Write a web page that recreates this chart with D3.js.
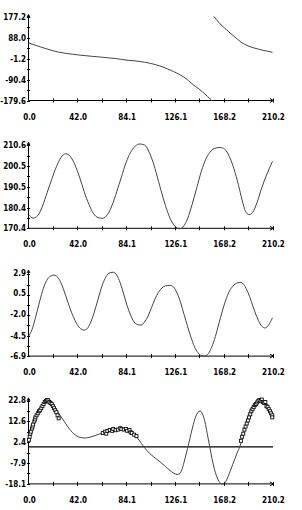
<!DOCTYPE html>
<html><head><meta charset="utf-8">
<script src="https://cdn.jsdelivr.net/npm/d3@7"></script>
<style>body{margin:0;background:#fff}svg{display:block}text{font-family:"DejaVu Sans Condensed","DejaVu Sans",sans-serif;font-size:8px;font-weight:bold;fill:#000}</style>
</head><body>
<script>
const xDomain = [0, 210.2];
const xTickLabels = ["0.0","42.0","84.1","126.1","168.2","210.2"];

const yLabels1 = ["-179.6","-90.4","-1.2","88.0","177.2"];
const yLabels2 = ["170.4","180.4","190.5","200.5","210.6"];
const yLabels3 = ["-6.9","-4.5","-2.0","0.5","2.9"];
const yLabels4 = ["-18.1","-7.9","2.4","12.6","22.8"];

const phaseSeg1 = [[0,67],[5,58],[10,50],[15,42],[21,33],[26,27],[32,22],[38,18],[43,15],[49,12],[55,9],[60,7],[64,5],[70,2],[75,0],[80,-4],[86,-8],[91,-10],[96,-13],[100,-16],[105,-21],[110,-27],[115,-35],[120,-45],[125,-56],[130,-68],[134,-80],[138,-95],[142,-113],[146,-127],[150,-143],[154,-161],[158,-180]];
const phaseSeg2 = [[159.7,180],[162,165],[165,148],[168,134],[171,121],[174,107],[177,95],[180,82],[183,70],[186,61],[189,54],[192,48],[195,44],[198,40],[202,35],[206,31],[210.2,26]];

const series2 = [[0,177.0],[4,175.3],[8,176.5],[12,181],[16,187.5],[20,194],[24,200],[28,204.5],[32,206.3],[36,205],[40,201],[44,195],[48,188],[52,182],[56,177.5],[60,175.5],[64,175.2],[68,177],[72,181.5],[76,188],[80,195],[84,202],[88,207],[92,210],[96,211],[100,210.5],[104,207],[108,201],[112,193],[116,185],[120,178],[124,173],[128,170.5],[130,170.2],[133,171],[137,175],[141,182],[145,190],[149,198],[153,204],[157,207.5],[161,209],[165,209.3],[169,208.5],[173,205],[177,199],[181,191],[184,184],[187,178.5],[190,177],[193,178],[197,183],[201,190],[205,196],[210.2,202.6]];

const series3 = [[0,-4.6],[3,-3.8],[6,-2.4],[9,-0.8],[12,0.7],[15,1.8],[18,2.4],[22,2.6],[26,2.2],[30,1.0],[34,-0.6],[38,-2.1],[42,-3.2],[45,-3.7],[48,-3.85],[51,-3.6],[54,-2.8],[57,-1.6],[60,-0.2],[63,1.2],[66,2.2],[69,2.8],[73,2.95],[76,2.6],[79,1.7],[82,0.4],[85,-1.0],[88,-2.1],[91,-2.9],[94,-3.2],[97,-3.25],[100,-2.9],[103,-2.2],[106,-1.2],[109,-0.2],[112,0.6],[115,1.1],[118,1.35],[122,1.4],[125,1.2],[128,0.5],[131,-0.6],[134,-2.0],[137,-3.4],[140,-4.7],[143,-5.8],[146,-6.5],[149,-6.85],[152,-6.9],[155,-6.6],[158,-5.8],[161,-4.6],[164,-3.1],[167,-1.6],[170,-0.3],[173,0.7],[176,1.3],[180,1.7],[183,1.75],[186,1.4],[189,0.6],[192,-0.5],[195,-1.7],[198,-2.7],[201,-3.4],[204,-3.6],[207,-3.2],[210.2,-2.4]];

const series4 = [[0,3.3],[2,7],[4,10.5],[6,13.5],[8,16],[10,18.2],[12,20],[14,21.5],[17,22.6],[20,22],[23,19.5],[26,16.5],[29,14],[32,11.5],[35,9],[38,7],[41,5.6],[45,4.6],[49,4.4],[53,4.8],[57,5.5],[61,6.3],[65,7.1],[69,7.8],[73,8.3],[77,8.8],[81,9.0],[85,8.6],[89,7.5],[93,5.0],[96,2.8],[99,0.3],[102,-1.8],[106,-4],[110,-5.8],[114,-7.6],[118,-9.6],[122,-11.6],[125,-12.8],[128,-13.5],[130,-13.2],[132,-11.3],[134,-7.5],[136,-3],[138,1.5],[140,6.5],[142,11],[144,14.8],[146,17],[148,17.6],[150,16],[152,12.3],[154,6.5],[156,0.5],[158,-5.5],[160,-10.5],[162,-14.3],[164,-16.8],[166,-18],[168,-18.1],[170,-16.8],[172,-14.5],[174,-11.5],[176,-8.5],[178,-5.5],[180,-2.5],[182,0],[184,4],[186,8.5],[188,12.5],[190,16.5],[192,19],[194,20.8],[196,22],[198,22.6],[200,23],[202,22.6],[204,21.5],[206,19.8],[208,17.8],[210.2,15.6]];

const markers4 = [[0.5,3.5],[1,5],[1.5,6.5],[2,7.5],[3,9],[3.5,10],[4,11],[5,12.5],[5.5,13.5],[6,14.5],[7,15.5],[8,16.5],[9,17.5],[10,18],[11,19],[12,20],[13,21],[14,22],[15,22.5],[16,23],[17,22.8],[18,22],[19,21.5],[20,21],[21,20],[22,19],[23,18],[24,17],[25,15.5],[26,14],
[64,6.8],[66,7.5],[67,6.5],[68,7.8],[70,8.3],[72,7.9],[73,8.8],[75,8.2],[77,8.5],[79,9.2],[80,8.8],[82,8.5],[84,8.8],[85,7.9],[87,8.3],[88,7.2],[89,6.8],[91,6.0],[93,5.3],
[183,3],[184,5],[185,6.5],[186,8.5],[187,10],[188,11.5],[189,13],[190,14.5],[191,16],[192,17.5],[193,18.5],[194,19.5],[195,20.5],[196,21],[197,21.8],[198,22.5],[199,23],[200,22.5],[201,23.2],[202,22],[203,21.5],[204,22],[205,20],[206,19.5],[207,18.5],[208,17.5],[209,16.5],[210,15.5],[210,14.5]];
const refLine4 = [0];

const svg = d3.select("body").append("svg").attr("width",302).attr("height",510);
const x = d3.scaleLinear().domain(xDomain).range([28.5,272.5]);
const line = d3.line().x(d=>x(d[0])).curve(d3.curveMonotoneX);

const panels = [
  {labels:yLabels1, lines:[phaseSeg1,phaseSeg2]},
  {labels:yLabels2, lines:[series2]},
  {labels:yLabels3, lines:[series3]},
  {labels:yLabels4, lines:[series4], markers:markers4, hline:refLine4}
];

panels.forEach((p,i)=>{
  const off = 127.8*i;
  const top = 17+off, bottom = 100.5+off;
  const vals = p.labels.map(Number);
  const y = d3.scaleLinear().domain([vals[0], vals[vals.length-1]]).range([bottom, top]);
  const g = svg.append("g");
  const step = (vals[1]-vals[0])/2;
  g.append("line").attr("x1",28.5).attr("x2",28.5).attr("y1",bottom).attr("y2",top-2).attr("stroke","#000");
  g.append("path").attr("d",`M27,${top+0.5}L28.5,${top-2.5}L30,${top+0.5}`).attr("fill","none").attr("stroke","#000");
  d3.range(0,9).forEach(k=>{
    const v = vals[0]+k*step;
    g.append("line").attr("x1",27).attr("x2",30).attr("y1",Math.round(y(v))+0.5).attr("y2",Math.round(y(v))+0.5).attr("stroke","#000");
  });
  p.labels.forEach(l=>{
    g.append("text").attr("x",26).attr("y",y(+l)+3).attr("text-anchor","end").text(l);
  });
  g.append("line").attr("x1",28.5).attr("x2",273).attr("y1",bottom).attr("y2",bottom).attr("stroke","#000");
  g.append("path").attr("d",`M270,${bottom-2}L273,${bottom}L270,${bottom+2}`).attr("fill","none").attr("stroke","#000");
  d3.range(1,11).forEach(k=>{
    const xv = Math.round(x(k*21.02))+0.5;
    g.append("line").attr("x1",xv).attr("x2",xv).attr("y1",bottom-2).attr("y2",bottom+2).attr("stroke","#000");
  });
  xTickLabels.forEach(l=>{
    g.append("text").attr("x",x(+l)+1).attr("y",bottom+19).attr("text-anchor","middle").text(l);
  });
  if(p.hline){
    p.hline.forEach(h=>{
      g.append("line").attr("x1",28.5).attr("x2",273).attr("y1",y(h)).attr("y2",y(h)).attr("stroke","#000").attr("stroke-width",1.2);
    });
  }
  line.y(d=>y(d[1]));
  p.lines.forEach(s=>{
    g.append("path").attr("d",line(s)).attr("fill","none").attr("stroke","#444").attr("stroke-width",1);
  });
  if(p.markers){
    g.selectAll("rect.m").data(p.markers).enter().append("rect")
      .attr("x",d=>x(d[0])-1.5).attr("y",d=>y(d[1])-1.5).attr("width",3).attr("height",3)
      .attr("fill","#fff").attr("stroke","#111").attr("stroke-width",0.9);
  }
});
</script>
</body></html>
